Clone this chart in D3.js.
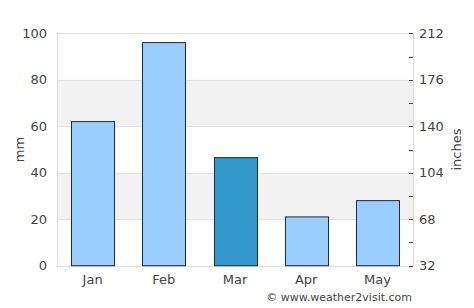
<!DOCTYPE html>
<html><head><meta charset="utf-8">
<script src="https://cdn.jsdelivr.net/npm/d3@7"></script>
<style>body{margin:0;background:#fff;}svg{display:block;font-family:"DejaVu Sans",sans-serif;}</style>
</head><body>
<svg id="c" width="474" height="308"></svg>
<script>
const months = ["Jan","Feb","Mar","Apr","May"];
const rainfall = [62, 96, 46.5, 21, 28];
const highlight = "Mar";
const leftTicks = [0,20,40,60,80,100];
const rightTicks = [32,68,104,140,176,212];
const rightMinor = [50,86,122,158,194];

const svg = d3.select("#c");
const L=57, R=413, T=33.3, B=265.7;
const x = d3.scaleBand().domain(months).range([L,R]).paddingInner(0.4).paddingOuter(0.2);
const y = d3.scaleLinear().domain([0,100]).range([B,T]);
const y2 = d3.scaleLinear().domain([32,212]).range([B,T]);

// bands
[[20,40],[60,80]].forEach(([a,b])=>{
  svg.append("rect").attr("x",L).attr("width",R-L).attr("y",y(b)).attr("height",y(a)-y(b)).attr("fill","#f2f2f2");
});
// gridlines
svg.append("g").selectAll("line").data(leftTicks.filter(d=>d>0)).join("line")
  .attr("x1",L).attr("x2",R).attr("y1",d=>Math.round(y(d))+0.5).attr("y2",d=>Math.round(y(d))+0.5)
  .attr("stroke","#e3e3e3").attr("stroke-width",1);
// axis lines
svg.append("line").attr("x1",L+0.5).attr("x2",L+0.5).attr("y1",T).attr("y2",B).attr("stroke","#dddddd");
svg.append("line").attr("x1",R+0.5).attr("x2",R+0.5).attr("y1",T).attr("y2",B).attr("stroke","#dddddd");
svg.append("line").attr("x1",L).attr("x2",R).attr("y1",Math.round(B)+0.5).attr("y2",Math.round(B)+0.5).attr("stroke","#dddddd");

// bars
svg.append("g").selectAll("rect").data(months).join("rect")
  .attr("x",d=>Math.round(x(d))+0.5).attr("width",Math.round(x.bandwidth()))
  .attr("y",(d,i)=>y(rainfall[i])).attr("height",(d,i)=>B-y(rainfall[i]))
  .attr("fill",d=>d===highlight?"#3399cc":"#99ccff")
  .attr("stroke","#1c2b3a").attr("stroke-width",1);

// left axis
const ya = d3.axisLeft(y).tickValues(leftTicks).tickSize(0).tickPadding(10);
const gl = svg.append("g").attr("transform",`translate(${L},0)`).call(ya);
gl.select(".domain").remove();
gl.selectAll("text").attr("fill","#444").style("font-size","13px").style("font-family","DejaVu Sans");

// right axis
const yb = d3.axisRight(y2).tickValues(rightTicks).tickSize(0).tickPadding(6);
const gr = svg.append("g").attr("transform",`translate(${R},0)`).call(yb);
gr.select(".domain").remove();
gr.selectAll("text").attr("fill","#444").style("font-size","13px").style("font-family","DejaVu Sans");
svg.append("g").selectAll("line").data(rightTicks.concat(rightMinor)).join("line")
  .attr("x1",R-4).attr("x2",R).attr("y1",d=>Math.round(y2(d))+0.5).attr("y2",d=>Math.round(y2(d))+0.5)
  .attr("stroke","#444").attr("stroke-width",1);

// x axis
const xa = d3.axisBottom(x).tickSize(0).tickPadding(9);
const gx = svg.append("g").attr("transform",`translate(0,${B})`).call(xa);
gx.select(".domain").remove();
gx.selectAll("text").attr("fill","#444").style("font-size","13px").style("font-family","DejaVu Sans");

// axis titles
svg.append("text").attr("transform",`translate(24,${(T+B)/2}) rotate(-90)`).attr("text-anchor","middle")
  .attr("fill","#444").style("font-size","13px").text("mm");
svg.append("text").attr("transform",`translate(461,${(T+B)/2}) rotate(-90)`).attr("text-anchor","middle")
  .attr("fill","#444").style("font-size","13px").text("inches");

svg.append("text").attr("x",412).attr("y",301).attr("text-anchor","end")
  .attr("fill","#444").style("font-size","11px").text("© www.weather2visit.com");
</script>
</body></html>
